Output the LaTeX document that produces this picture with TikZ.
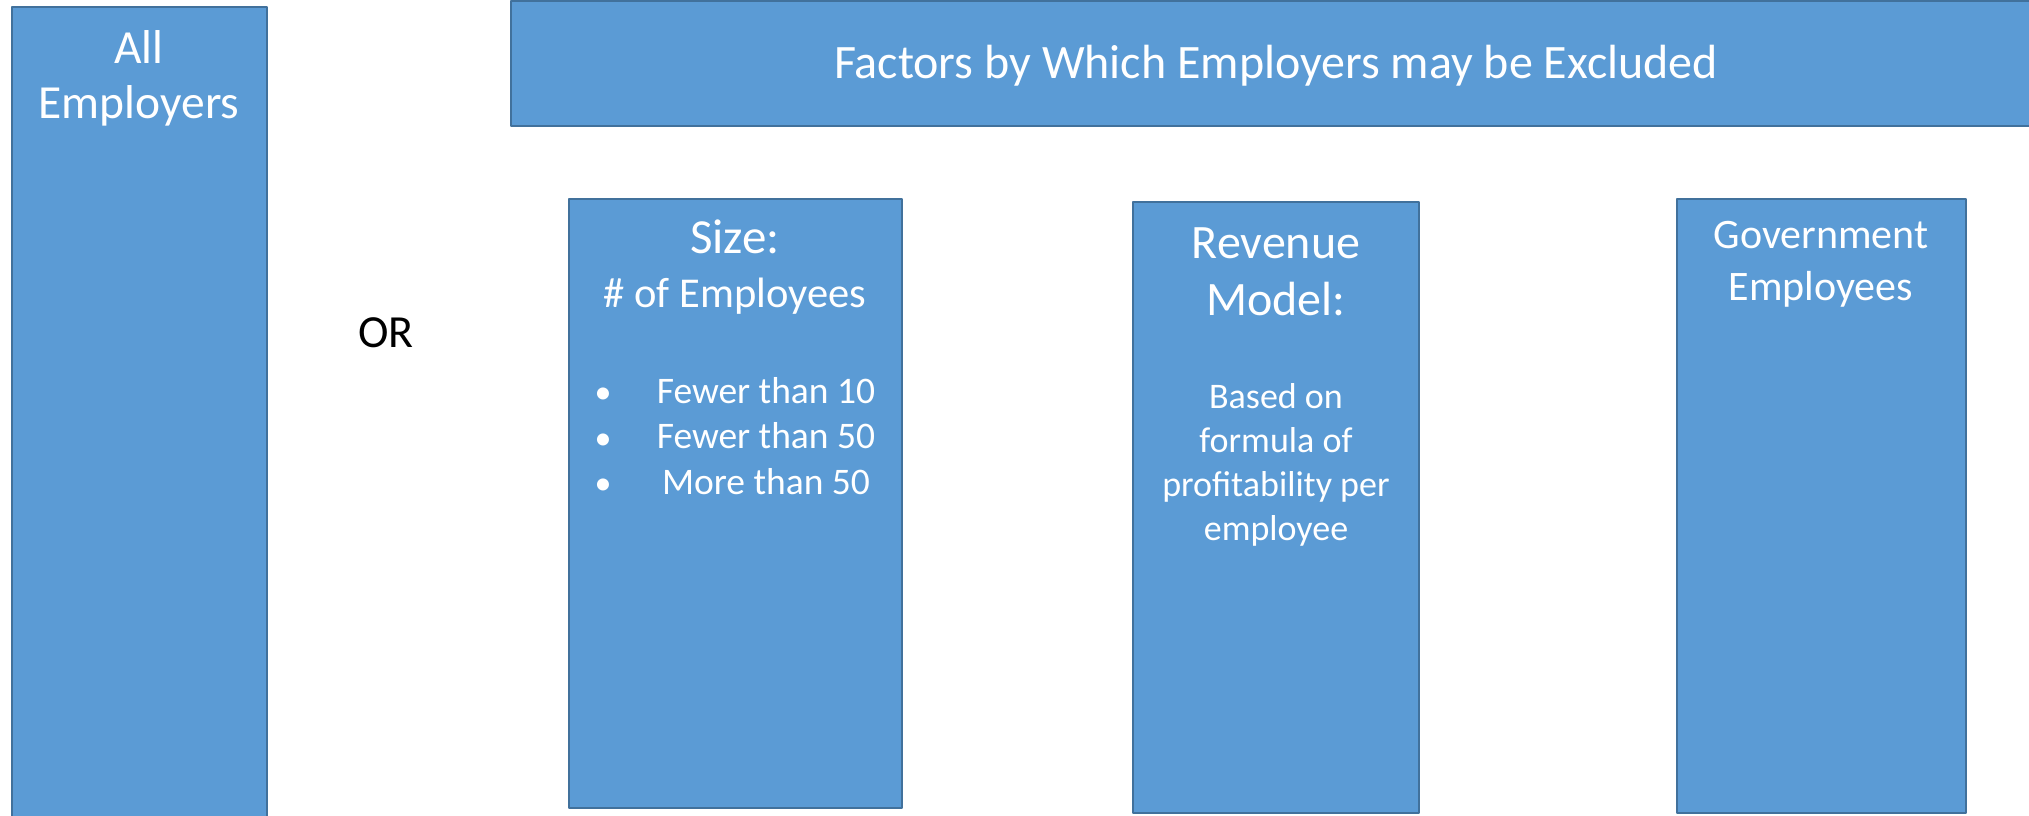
\documentclass[tikz,border=0pt]{standalone}
\usepackage{fontspec}
\setmainfont{Carlito}
\definecolor{boxfill}{HTML}{5B9BD5}
\definecolor{boxline}{HTML}{41719C}
\begin{document}
\begin{tikzpicture}[x=1pt, y=-1pt, line join=round,
	box/.style={fill=boxfill, draw=boxline, line width=2.5pt},
	txt/.style={text=white, align=center, anchor=base, inner sep=0pt},
	fs/.style 2 args={font=\fontsize{#1}{#2}\selectfont}]
	\useasboundingbox (0,0) rectangle (2029,816);
	\clip (0,0) rectangle (2029,816);
	% hộp
	\draw[box] (12,7) rectangle (267,840);
	\draw[box] (511,1) rectangle (2060,126);
	\draw[box] (569,199) rectangle (902,808);
	\draw[box] (1133,202) rectangle (1419,813);
	\draw[box] (1677,199) rectangle (1966,813);
	% chữ (điểm đặt = đường chân của dòng cuối)
	\node[txt, fs={47.5}{55}] (all) at (139,118) {All\\Employers};
	\node[txt, fs={48}{55}] (factors) at (1276,78) {Factors by Which Employers may be Excluded};
	\node[txt, fs={46}{55}, text=black] (or) at (386,347) {OR};
	\node[txt, fs={49}{54}] (size) at (735,253) {Size:};
	\node[txt, fs={42.5}{54}] (count) at (735,307) {\# of Employees};
	\node[txt, fs={37.5}{45.5}] (sizelist) at (766,494) {Fewer than 10\\Fewer than 50\\More than 50};
	\foreach \yy in {403,449,494} \node[txt, fs={34}{45}] (dot\yy) at (603,\yy) {•};
	\node[txt, fs={48}{57}] (revenue) at (1276,315) {Revenue\\Model:};
	\node[txt, fs={36}{44}] (formula) at (1276,540) {Based on\\formula of\\profitability per\\employee};
	\node[txt, fs={42}{52}] (gov) at (1821,300) {Government\\Employees};
\end{tikzpicture}
\end{document}
